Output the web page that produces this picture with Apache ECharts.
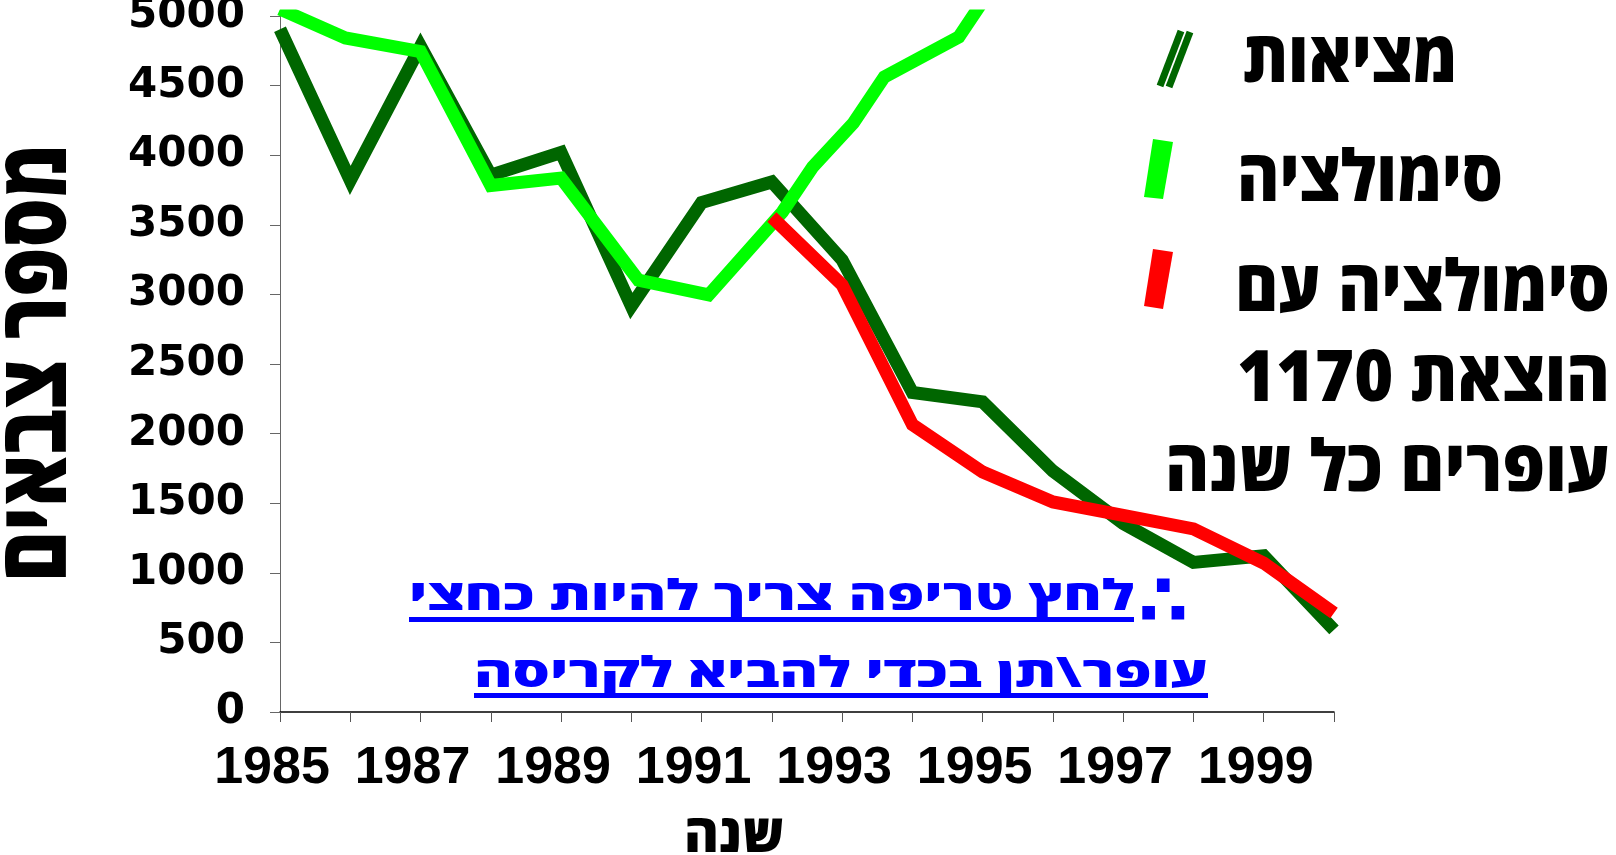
<!DOCTYPE html>
<html>
<head>
<meta charset="utf-8">
<script src="https://cdn.jsdelivr.net/npm/echarts@6/dist/echarts.min.js"></script>
<style>
html,body{margin:0;padding:0;background:#fff;}
#chart{width:1616px;height:855px;}
</style>
</head>
<body>
<div id="chart"></div>
<script>
// ---- data ----
const years = [1985,1986,1987,1988,1989,1990,1991,1992,1993,1994,1995,1996,1997,1998,1999,2000];
const realValues = [4905,3819,4782,3856,4019,2917,3660,3808,3247,2295,2228,1731,1354,1075,1122,590];
const simYears = [1985,1985.93,1987,1988,1989,1990.1,1991.1,1992.15,1992.58,1993.16,1993.6,1994.66,1995];
const simValues = [5050,4842,4745,3782,3836,3103,2996,3592,3915,4231,4562,4849,5105];
const sim1170Years = [1992,1993,1994,1995,1996,1997,1998,1999,2000];
const sim1170Values = [3556,3068,2065,1724,1509,1413,1315,1070,711];
const yTicks = {min:0, max:5000, step:500};
const xTicks = {min:1985, max:2000, step:1};

const seriesNames = ['מציאות','סימולציה','סימולציה עם הוצאת 1170 עופרים כל שנה'];
const legendLines = [['מציאות'],['סימולציה'],['סימולציה עם','\u202Bהוצאת 1170\u202C','עופרים כל שנה']];
const xAxisTitle = 'שנה';
const yAxisTitle = 'מספר צבאים';
const noteLine1 = 'לחץ טריפה צריך להיות כחצי';
const noteLine2 = 'עופר\\תן בכדי להביא לקריסה';
const noteMark = '∴';

const colors = ['#006600','#00FF00','#FF0000'];
const HEB = '"Open Sans", "Liberation Sans", "DejaVu Sans", sans-serif';
const HW = 800;
const NUM = '"Liberation Sans", Arial, sans-serif';
const VOFF = 0.02;

function zipXY(xs, ys){ return xs.map((x,i)=>[x, ys[i]]); }

const mctx = document.createElement('canvas').getContext('2d');
function textW(t, font){ mctx.font = font; return mctx.measureText(t).width; }

// fitted text: anchor at left or right edge, target width, letter-centre y
function fitText(t, fs, x0, x1, cy, fill, anchor){
  const font = HW + ' ' + fs + 'px ' + HEB;
  const w = textW(t, font);
  const sx = (x1 - x0) / w;
  return {
    type:'text', x: anchor==='right'? x1 : x0, y: cy - VOFF*fs, scaleX: sx, z: 100,
    style:{ text:t, fill:fill, font:font, align: anchor==='right'?'right':'left', verticalAlign:'middle' }
  };
}

const graphics = [];
// legend icons
graphics.push({type:'line', shape:{x1:1160,y1:86,x2:1181,y2:31}, style:{stroke:colors[0], lineWidth:7}, z:100});
graphics.push({type:'line', shape:{x1:1169,y1:87,x2:1190,y2:32}, style:{stroke:colors[0], lineWidth:7}, z:100});
graphics.push({type:'polygon', shape:{points:[[1144,197],[1163,199],[1173,142],[1153,139]]}, style:{fill:colors[1]}, z:100});
graphics.push({type:'polygon', shape:{points:[[1144,306],[1163,309],[1173,252],[1153,249]]}, style:{fill:colors[2]}, z:100});
// legend texts
graphics.push(fitText(legendLines[0][0], 71, 1243, 1457, 63, '#000', 'left'));
graphics.push(fitText(legendLines[1][0], 71, 1237, 1503, 182, '#000', 'left'));
graphics.push(fitText(legendLines[2][0], 71, 1235, 1610, 292, '#000', 'right'));
graphics.push(fitText(legendLines[2][1], 71, 1237, 1610, 382, '#000', 'right'));
graphics.push(fitText(legendLines[2][2], 71, 1165, 1610, 472, '#000', 'right'));
// y axis title (rotated)
(function(){
  const fs = 95, font = HW + ' ' + fs + 'px ' + HEB;
  const w = textW(yAxisTitle, font);
  graphics.push({type:'text', x: 39, y: 363, rotation: Math.PI/2, scaleX: 438 / w, z:100,
    style:{text:yAxisTitle, fill:'#000', font:font, align:'center', verticalAlign:'middle'}});
})();
// blue note
graphics.push(fitText(noteLine1, 42, 409, 1134, 599, '#0000FF', 'right'));
graphics.push(fitText(noteLine2, 42, 474, 1208, 676, '#0000FF', 'right'));
graphics.push({type:'text', x:1163, y:606, z:100,
  style:{text:noteMark, fill:'#0000FF', font:'bold 72px "DejaVu Sans", sans-serif', align:'center', verticalAlign:'middle'}});
graphics.push({type:'rect', shape:{x:409,y:617,width:725,height:5}, style:{fill:'#0000FF'}, z:100});
graphics.push({type:'rect', shape:{x:474,y:693,width:734,height:5}, style:{fill:'#0000FF'}, z:100});

const chart = echarts.init(document.getElementById('chart'), null, {renderer:'canvas'});
chart.setOption({
  animation:false,
  backgroundColor:'#fff',
  grid:{left:280, right:282, top:16, bottom:143, containLabel:false, outerBoundsMode:'none'},
  xAxis:{
    type:'value', min:xTicks.min, max:xTicks.max, interval:xTicks.step,
    name:xAxisTitle, nameLocation:'middle', nameGap:98,
    nameTextStyle:{fontSize:53, fontWeight:HW, color:'#000', fontFamily:HEB, padding:[0,146,0,0]},
    axisLine:{show:true, lineStyle:{color:'#000', width:1.5}},
    axisTick:{show:true, length:10, lineStyle:{color:'#555'}},
    axisLabel:{
      margin:31, fontSize:52, fontWeight:'bold', color:'#000', fontFamily:NUM,
      padding:[0,16,0,0],
      formatter:function(v){ return (v % 2 === 1 && v < xTicks.max) ? String(v) : ''; }
    },
    splitLine:{show:false}
  },
  yAxis:{
    type:'value', min:yTicks.min, max:yTicks.max, interval:yTicks.step,
    axisLine:{show:true, lineStyle:{color:'#666', width:1}},
    axisTick:{show:true, length:10, lineStyle:{color:'#666'}},
    axisLabel:{margin:35, fontSize:42, fontWeight:'bold', color:'#000', fontFamily:'"DejaVu Sans", sans-serif',
      formatter:function(v){ return String(v); }},
    splitLine:{show:false}
  },
  series:[
    {name:seriesNames[0], type:'line', data:zipXY(years, realValues), showSymbol:false, clip:true,
     lineStyle:{color:colors[0], width:13, join:'miter'}, itemStyle:{color:colors[0]}, z:2},
    {name:seriesNames[1], type:'line', data:zipXY(simYears, simValues), showSymbol:false, clip:true,
     lineStyle:{color:colors[1], width:13, join:'miter'}, itemStyle:{color:colors[1]}, z:3},
    {name:seriesNames[2], type:'line', data:zipXY(sim1170Years, sim1170Values), showSymbol:false, clip:true,
     lineStyle:{color:colors[2], width:13, join:'miter'}, itemStyle:{color:colors[2]}, z:4}
  ],
  graphic: graphics
});
</script>
</body>
</html>
